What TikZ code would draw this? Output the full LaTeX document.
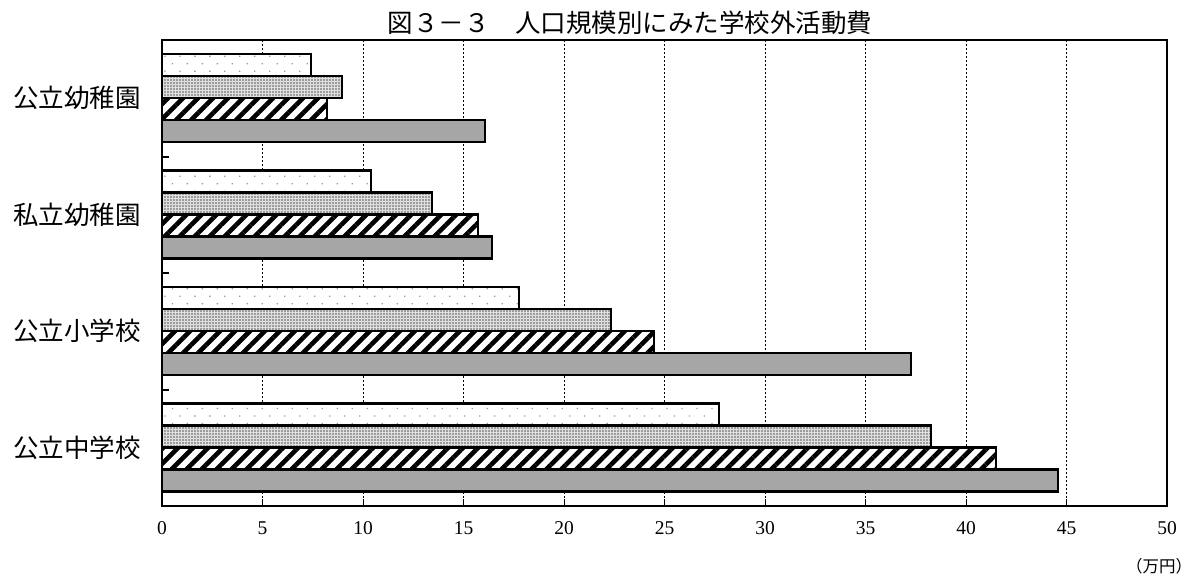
\documentclass[tikz,border=0pt]{standalone}
\usepackage{fontspec}
\setmainfont{Liberation Serif}
\newfontfamily\cjk{Noto Sans CJK JP}
\usetikzlibrary{patterns,patterns.meta}
\tikzset{
  barline/.style={draw=black, line width=2.2pt},
  sparsebar/.style={barline, preaction={fill=white}, pattern={Dots[distance=10.6pt, radius=0.9pt, angle=45]}, pattern color=gray!80},
  densebar/.style={barline, preaction={fill=gray!25}, pattern={Dots[distance=3pt, radius=0.8pt]}, pattern color=gray!70!black},
  hatchbar/.style={barline, preaction={fill=white}, pattern={Lines[angle=45, distance=10.6pt, line width=4.6pt]}, pattern color=black},
  graybar/.style={barline, fill=gray!70},
  gridline/.style={dash pattern=on 2pt off 2pt, line width=0.8pt},
  catlabel/.style={font=\cjk\fontsize{25.5}{30}\selectfont, anchor=east, inner sep=0pt},
  numlabel/.style={font=\fontsize{19.5}{22}\selectfont, inner sep=0pt},
}
\begin{document}
\begin{tikzpicture}[x=1pt, y=-1pt]
\useasboundingbox (0,0) rectangle (1198,581);
% grid
\foreach \i in {1,...,9} {
  \draw[gridline] ({162+20.1*5*\i},40) -- ({162+20.1*5*\i},506);
  \draw[line width=1pt] ({162+20.1*5*\i},499) -- ({162+20.1*5*\i},506);
}
% bars
\foreach \k/\a/\b/\c/\d in {0/7.41/8.94/8.22/16.07, 1/10.4/13.42/15.74/16.43, 2/17.76/22.34/24.46/37.26, 3/27.73/38.24/41.49/44.59} {
  \pgfmathsetmacro{\T}{40+116.5*\k}
  \draw[sparsebar] (162,{\T+14}) rectangle ({162+20.1*\a},{\T+36});
  \draw[densebar]  (162,{\T+36}) rectangle ({162+20.1*\b},{\T+58});
  \draw[hatchbar]  (162,{\T+58}) rectangle ({162+20.1*\c},{\T+80});
  \draw[graybar]   (162,{\T+80}) rectangle ({162+20.1*\d},{\T+102});
}
% frame
\draw[line width=2pt] (162,40) rectangle (1167,506);
\foreach \y in {156.5,273,389.5} \draw[line width=2pt] (162,\y) -- (169,\y);
% category labels
\node[catlabel] (c1) at (141,98) {公立幼稚園};
\node[catlabel] (c2) at (141,215) {私立幼稚園};
\node[catlabel] (c3) at (141,331) {公立小学校};
\node[catlabel] (c4) at (141,448) {公立中学校};
% x labels
\foreach \i in {0,...,10} {
  \pgfmathtruncatemacro{\v}{5*\i}
  \node[numlabel] (x\i) at ({162+20.1*5*\i},528) {\v};
}
\node[font=\cjk\fontsize{16.5}{18}\selectfont, inner sep=0pt] (unit) at (1159,566) {（万円）};
% title
\node[font=\cjk\fontsize{25.5}{30}\selectfont, inner sep=0pt] (title) at (630,23) {図３－３　人口規模別にみた学校外活動費};
\end{tikzpicture}
\end{document}
